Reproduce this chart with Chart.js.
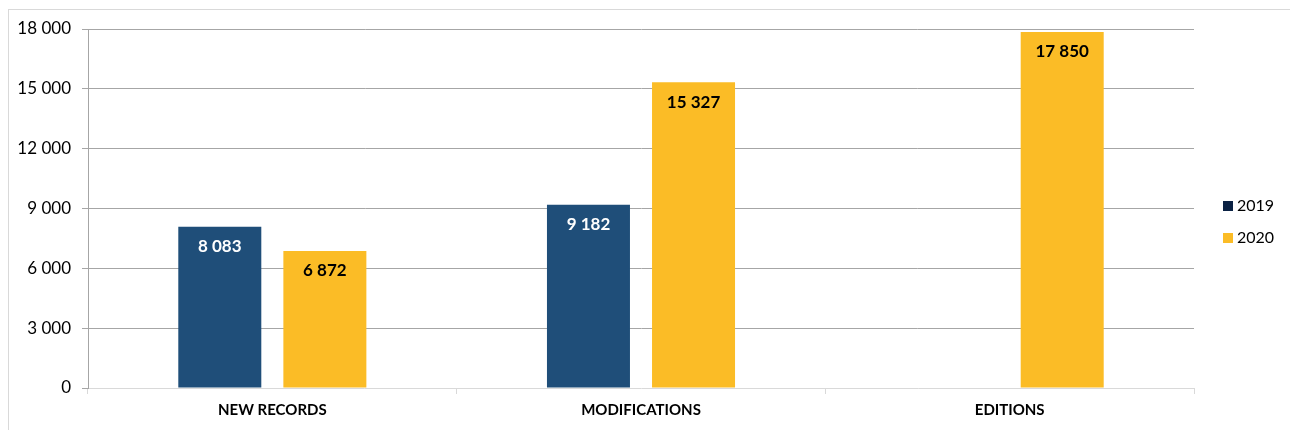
<!DOCTYPE html>
<html>
<head>
<meta charset="utf-8">
<script src="https://cdn.jsdelivr.net/npm/chart.js@4"></script>
<style>
  html, body { margin: 0; padding: 0; background: #fff; }
  #frame { position: absolute; left: 8px; top: 9px; width: 1300px; height: 440px; border-top: 1px solid #d9d9d9; border-left: 1px solid #d9d9d9; }
  #wrap { position: absolute; left: 0; top: 0; width: 1290px; height: 430px; }
</style>
</head>
<body>
<div id="frame"></div>
<div id="wrap"><canvas id="myChart" width="1290" height="430"></canvas></div>
<script>
var ctx = document.getElementById('myChart').getContext('2d');

const categories = ['NEW RECORDS', 'MODIFICATIONS', 'EDITIONS'];
const values2019 = [8083, 9182, null];
const values2020 = [6872, 15327, 17850];
const yTicks = [0, 3000, 6000, 9000, 12000, 15000, 18000];
const legendColors = ['#0b2244', '#fbbc26'];

const fmt = v => String(v).replace(/\B(?=(\d{3})+(?!\d))/g, ' ');

// labels inside the top of each bar
const barLabels = {
    id: 'barLabels',
    afterDatasetsDraw(chart) {
        const c = chart.ctx;
        c.save();
        c.font = 'bold 17px Lato';
        c.textAlign = 'center';
        c.textBaseline = 'middle';
        chart.data.datasets.forEach((ds, i) => {
            chart.getDatasetMeta(i).data.forEach((bar, j) => {
                if (ds.data[j] == null) return;
                c.fillStyle = i === 0 ? '#ffffff' : '#000000';
                c.fillText(fmt(ds.data[j]), bar.x, bar.y + 20);
            });
        });
        c.restore();
    }
};

// legend on the right, like the excel one
const sideLegend = {
    id: 'sideLegend',
    afterDraw(chart) {
        const c = chart.ctx;
        const x = chart.chartArea.right + 29;
        c.save();
        c.font = '16px Lato';
        c.textBaseline = 'middle';
        chart.data.datasets.forEach((ds, i) => {
            const y = 206 + i * 32;
            c.fillStyle = legendColors[i];
            c.fillRect(x, y - 5, 10, 10);
            c.fillStyle = '#000';
            c.fillText(ds.label, x + 14, y);
        });
        c.restore();
    }
};

var myChart = new Chart(ctx, {
    type: 'bar',
    data: {
        labels: categories,
        datasets: [{
            label: '2019',
            data: values2019,
            backgroundColor: '#1f4e79',
            categoryPercentage: 0.57,
            barPercentage: 0.79
        }, {
            label: '2020',
            data: values2020,
            backgroundColor: '#fbbc26',
            categoryPercentage: 0.57,
            barPercentage: 0.79
        }]
    },
    options: {
        responsive: false,
        animation: false,
        layout: { padding: { top: 29, right: 96, bottom: 0, left: 0 } },
        plugins: {
            tooltip: { enabled: false },
            legend: { display: false }
        },
        scales: {
            x: {
                afterFit(scale) { scale.height = 42; },
                border: { color: '#d9d9d9' },
                grid: { drawOnChartArea: false, drawTicks: true, tickLength: 6, color: '#d9d9d9' },
                ticks: { color: '#000', font: { family: 'Lato', size: 15, weight: 'bold' }, padding: 7 }
            },
            y: {
                min: 0,
                max: 18000,
                afterFit(scale) { scale.width = 88; },
                afterBuildTicks(scale) { scale.ticks = yTicks.map(v => ({ value: v })); },
                border: { color: '#a6a6a6' },
                grid: {
                    color: ctx => ctx.tick && ctx.tick.value === 0 ? 'rgba(0,0,0,0)' : '#a6a6a6',
                    tickLength: 6,
                    tickColor: '#a6a6a6'
                },
                ticks: {
                    color: '#000',
                    font: { family: 'Lato', size: 17 },
                    padding: 11,
                    callback: v => fmt(v)
                }
            }
        }
    },
    plugins: [barLabels, sideLegend]
});
</script>
</body>
</html>
